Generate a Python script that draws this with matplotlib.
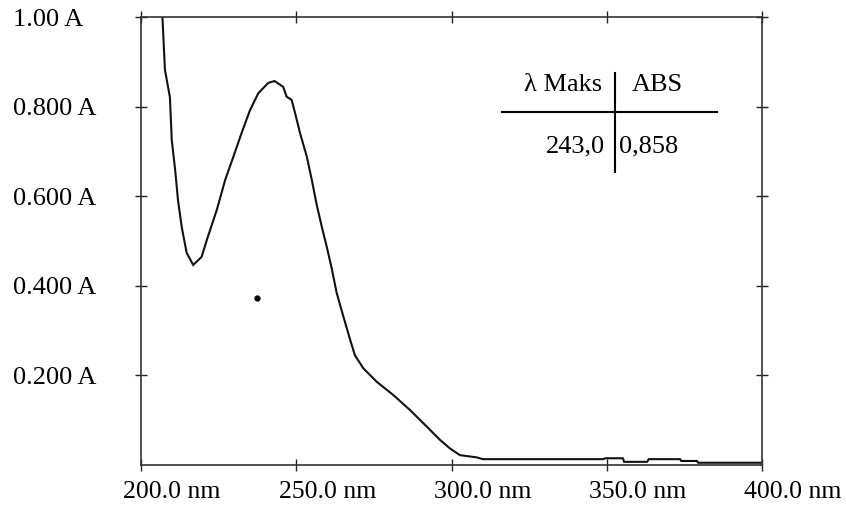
import matplotlib
matplotlib.use("Agg")
import matplotlib.pyplot as plt
import matplotlib.transforms as mtransforms

plt.rcParams['font.family'] = ['Liberation Serif', 'DejaVu Serif']

# spectrum (wavelength nm, absorbance)
wavelength = [206.6, 206.9, 207.7, 209.3, 209.9, 211.0, 211.9, 213.1, 214.7, 216.8,
              219.5, 221.2, 224.4, 227.1, 229.7, 232.4, 235.1, 237.8, 241.0, 243.0,
              245.8, 246.9, 248.5, 249.6, 251.2, 253.4, 255.0, 256.6, 258.2, 259.8,
              261.4, 263.0, 265.2, 267.3, 268.9, 271.6, 275.9, 281.3, 286.6, 292.0,
              296.3, 299.5, 302.7, 308.1, 310.1, 348.8, 349.5, 355.2, 355.6, 363.0,
              363.5, 373.6, 374.0, 379.0, 379.5, 400.0]
absorbance = [1.10, 1.00, 0.883, 0.822, 0.726, 0.659, 0.592, 0.532, 0.474, 0.447,
              0.465, 0.503, 0.570, 0.637, 0.688, 0.742, 0.793, 0.831, 0.854, 0.858,
              0.845, 0.823, 0.816, 0.787, 0.742, 0.689, 0.637, 0.581, 0.533, 0.488,
              0.440, 0.385, 0.331, 0.281, 0.245, 0.216, 0.186, 0.156, 0.123, 0.086,
              0.056, 0.037, 0.022, 0.017, 0.013, 0.013, 0.015, 0.015, 0.007, 0.007,
              0.013, 0.013, 0.009, 0.009, 0.005, 0.005]

stray_dot = (237.4, 0.373)

x_ticks = [200, 250, 300, 350, 400]
x_labels = ['200.0 nm', '250.0 nm', '300.0 nm', '350.0 nm', '400.0 nm']
y_ticks = [0.2, 0.4, 0.6, 0.8, 1.0]
y_labels = ['0.200 A', '0.400 A', '0.600 A', '0.800 A', '1.00 A']

peak_wl = '243,0'
peak_abs = '0,858'

fig = plt.figure(figsize=(8.46, 5.13), dpi=100)
ax = fig.add_axes([0.1667, 0.0936, 0.734, 0.8723])

ax.plot(wavelength, absorbance, color='#111111', lw=1.5, solid_joinstyle='miter')
ax.plot(*stray_dot, 'o', color='black', ms=3.5)

ax.set_xlim(200, 400)
ax.set_ylim(0, 1.0)

ax.set_xticks(x_ticks)
ax.set_xticklabels(x_labels, fontsize=18.5)
ax.set_yticks(y_ticks)
ax.set_yticklabels(y_labels, fontsize=19, ha='left')

ax.tick_params(axis='both', direction='inout', length=9, width=1.0,
               top=True, right=True, color='#222222')
ax.tick_params(axis='x', pad=7)
ax.tick_params(axis='y', pad=88)

offset = mtransforms.ScaledTranslation(0.31, 0, fig.dpi_scale_trans)
for lab in ax.get_xticklabels():
    lab.set_transform(lab.get_transform() + offset)

for sp in ax.spines.values():
    sp.set_linewidth(1.2)
    sp.set_color('#333333')

# little table with the maximum
ax.plot([352.7, 352.7], [0.655, 0.876], color='black', lw=1.5)
ax.plot([316.3, 385.5], [0.789, 0.789], color='black', lw=1.5)
ax.text(348.5, 0.849, 'λ Maks', ha='right', va='center', fontsize=19)
ax.text(358.1, 0.849, 'ABS', ha='left', va='center', fontsize=19)
ax.text(349.4, 0.711, peak_wl, ha='right', va='center', fontsize=19)
ax.text(353.9, 0.711, peak_abs, ha='left', va='center', fontsize=19)

fig.savefig('out.png', dpi=100)
